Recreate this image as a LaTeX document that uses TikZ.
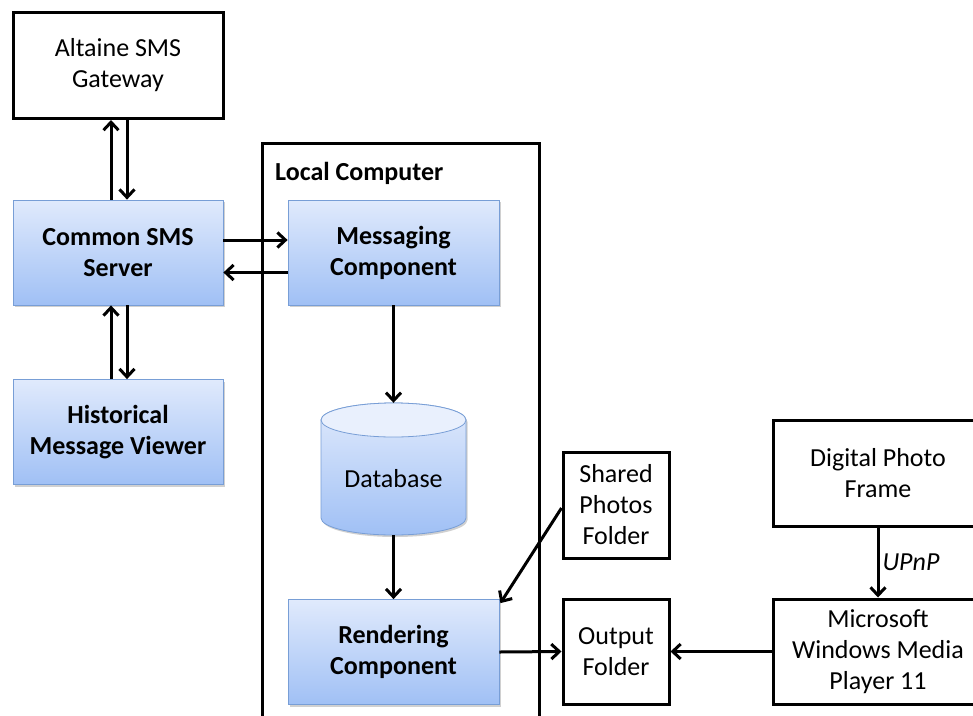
\documentclass[tikz,border=0pt]{standalone}
\usepackage{fontspec}
\setmainfont{Carlito}
\usetikzlibrary{arrows.meta,shadows}
\definecolor{btop}{RGB}{224,234,252}
\definecolor{bbot}{RGB}{160,192,245}
\definecolor{bblue}{RGB}{120,158,214}
\begin{document}
\begin{tikzpicture}[x=1pt,y=-1pt,
  every node/.style={font=\fontsize{26}{31}\selectfont, align=center, inner sep=0pt},
  wbox/.style={draw=black, line width=3pt, minimum width=210pt, minimum height=106pt},
  bbox/.style={draw=bblue, line width=0.8pt, top color=btop, bottom color=bbot,
    minimum width=211pt, minimum height=105pt,
    font=\fontsize{26}{31}\selectfont\bfseries,
    drop shadow={shadow xshift=1.5pt, shadow yshift=-2pt, opacity=0.3, fill=black!60}},
  arr/.style={line width=3pt, -{Straight Barb[length=8pt,width=15pt]}}
]
\clip (0,0) rectangle (973,715);
\fill[white] (0,0) rectangle (973,715);

% local computer container
\node[draw=black, line width=3pt, minimum width=277pt, minimum height=597pt] (lc) at (400.5,441.5) {};
\node[anchor=west, font=\fontsize{26}{31}\selectfont\bfseries] (lcl) at (275,173) {Local Computer};

% left column
\node[wbox] (gw) at (118,65.5) {Altaine SMS\\Gateway};
\node[bbox, minimum width=210pt] (cs) at (118,252.5) {Common SMS\\Server};
\node[bbox, minimum width=210pt] (hv) at (118,432) {Historical\\Message Viewer};

% local computer contents
\node[bbox] (msg) at (393.5,252.5) {Messaging\\Component};
\node[bbox] (rend) at (393.5,652) {Rendering\\Component};

% database cylinder
\shade[top color=btop, bottom color=bbot, draw=bblue, line width=0.8pt,
  drop shadow={shadow xshift=1.5pt, shadow yshift=-2pt, opacity=0.3, fill=black!60}]
  (321,420) -- (321,518) arc[start angle=180, end angle=360, x radius=72.5pt, y radius=17pt]
  -- (466,420) arc[start angle=0, end angle=180, x radius=72.5pt, y radius=17pt] -- cycle;
\fill[btop!70!white, draw=bblue, line width=0.8pt] (393.5,420) ellipse[x radius=72.5pt, y radius=17pt];
\node[minimum width=145pt, minimum height=132pt] (db) at (393.5,469) {};
\node (dbt) at (393.5,479) {Database};

% right boxes
\node[wbox, minimum width=106pt] (sp) at (616,505) {Shared\\Photos\\Folder};
\node[wbox, minimum width=106pt, minimum height=105pt] (of) at (616,651.5) {Output\\Folder};
\node[wbox] (dpf) at (878,473) {Digital Photo\\Frame};
\node[wbox, minimum height=105pt] (wmp) at (878,651.5) {Microsoft\\Windows Media\\Player 11};

% connectors
\draw[arr] ([xshift=-7pt]cs.north) -- ([xshift=-7pt]gw.south);
\draw[arr] ([xshift=9pt]gw.south) -- ([xshift=9pt]cs.north);
\draw[arr] ([xshift=-7pt]hv.north) -- ([xshift=-7pt]cs.south);
\draw[arr] ([xshift=9pt]cs.south) -- ([xshift=9pt]hv.north);
\draw[arr] ([yshift=12.5pt]cs.east) -- ([yshift=12.5pt]msg.west);
\draw[arr] ([yshift=-20pt]msg.west) -- ([yshift=-20pt]cs.east);
\draw[arr] (msg.south) -- (db.north);
\draw[arr] (db.south) -- (rend.north);
\draw[arr] ([yshift=-3pt]sp.west) -- ([xshift=1pt,yshift=-4pt]rend.north east);
\draw[arr] (rend.east) -- (of.west);
\draw[arr] (wmp.west) -- (of.east);
\draw[arr] (dpf.south) -- node[right=3pt, font=\fontsize{26}{31}\selectfont\itshape] (upnp) {UPnP} (wmp.north);
\end{tikzpicture}
\end{document}
